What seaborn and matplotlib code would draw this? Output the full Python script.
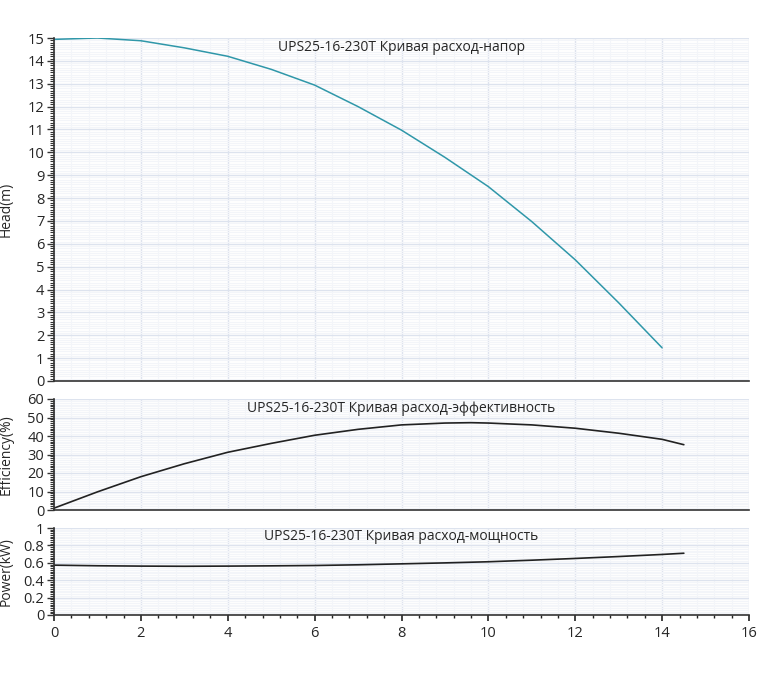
import numpy as np
import pandas as pd
import matplotlib
matplotlib.use("Agg")
import matplotlib.pyplot as plt
import seaborn as sns
from matplotlib.ticker import MultipleLocator, AutoMinorLocator, FuncFormatter

# === Data ===
flow_head = [0, 1, 2, 3, 4, 5, 6, 7, 8, 9, 10, 11, 12, 13, 14]
head = [14.94, 15.0, 14.88, 14.57, 14.2, 13.63, 12.94, 12.0, 10.97, 9.78, 8.5, 6.97, 5.3, 3.42, 1.45]

flow_eff = [0, 1, 2, 3, 4, 5, 6, 7, 8, 9, 9.6, 10, 11, 12, 13, 14, 14.5]
efficiency = [1, 9.8, 18, 25, 31.2, 36, 40.4, 43.6, 46, 47, 47.2, 47, 46, 44.2, 41.5, 38.2, 35.3]

flow_pow = [0, 1, 2, 3, 4, 5, 6, 7, 8, 9, 10, 11, 12, 13, 14, 14.5]
power = [0.573, 0.566, 0.562, 0.560, 0.562, 0.565, 0.569, 0.577, 0.588, 0.599,
         0.612, 0.63, 0.65, 0.672, 0.696, 0.71]

titles = ["UPS25-16-230T Кривая расход-напор",
          "UPS25-16-230T Кривая расход-эффективность",
          "UPS25-16-230T Кривая расход-мощность"]
ylabels = ["Head(m)", "Efficiency(%)", "Power(kW)"]

sns.set_style("white", {"xtick.bottom": True, "ytick.left": True})
plt.rcParams['font.family'] = ['Open Sans', 'DejaVu Sans']

fig = plt.figure(figsize=(7.69, 6.80), dpi=100)
left, width = 54 / 769, 695 / 769
ax_h = fig.add_axes([left, 299 / 680, width, 343 / 680])
ax_e = fig.add_axes([left, 170 / 680, width, 111 / 680])
ax_p = fig.add_axes([left, 65 / 680, width, 87 / 680])

df_h = pd.DataFrame({"Q": flow_head, "H": head})
df_e = pd.DataFrame({"Q": flow_eff, "E": efficiency})
df_p = pd.DataFrame({"Q": flow_pow, "P": power})

sns.lineplot(data=df_h, x="Q", y="H", ax=ax_h, color="#2f97a9", lw=1.1)
sns.lineplot(data=df_e, x="Q", y="E", ax=ax_e, color="#222222", lw=1.2)
sns.lineplot(data=df_p, x="Q", y="P", ax=ax_p, color="#222222", lw=1.2)

fmt = FuncFormatter(lambda v, p: "%g" % round(v, 2))
limits = [(0, 15, 1), (0, 60, 10), (0, 1, 0.2)]
title_y = [0.995, 0.985, 0.985]
for ax, (lo, hi, step), title, lab, ty in zip([ax_h, ax_e, ax_p], limits, titles, ylabels, title_y):
    ax.set_xlim(0, 16)
    ax.set_ylim(lo, hi)
    ax.xaxis.set_major_locator(MultipleLocator(2))
    ax.xaxis.set_minor_locator(AutoMinorLocator(5))
    ax.yaxis.set_major_locator(MultipleLocator(step))
    ax.yaxis.set_minor_locator(AutoMinorLocator(10))
    ax.yaxis.set_major_formatter(fmt)
    ax.grid(which="major", color="#dde3ee", lw=1.0)
    ax.grid(which="minor", color="#f3f5f9", lw=0.8)
    ax.set_axisbelow(True)
    for s in ["top", "right"]:
        ax.spines[s].set_visible(False)
    for s in ["left", "bottom"]:
        ax.spines[s].set_color("#333333")
        ax.spines[s].set_linewidth(1.2)
    ax.tick_params(axis="y", which="major", direction="out", length=5, width=1,
                   labelsize=10.5, pad=2, color="#333333", left=True)
    ax.tick_params(axis="y", which="minor", direction="out", length=3, width=0.8,
                   color="#333333", left=True)
    ax.set_xlabel("")
    ax.set_ylabel(lab, fontsize=10)
    ax.yaxis.set_label_coords(-0.058, 0.5)
    ax.text(0.5, ty, title, transform=ax.transAxes, ha="center", va="top", fontsize=10)

for ax in [ax_h, ax_e]:
    ax.tick_params(axis="x", which="both", bottom=False, labelbottom=False)

# x ticks of the bottom panel drawn as short lines under the axis
ax_p.tick_params(axis="x", which="major", length=0, labelsize=10.5, pad=8)
ax_p.tick_params(axis="x", which="minor", length=0)
xt = ax_p.get_xaxis_transform()
ax_p.vlines(ax_p.xaxis.get_majorticklocs(), -0.065, 0, transform=xt,
            color="#222222", lw=1.2, clip_on=False)
ax_p.vlines(ax_p.xaxis.get_minorticklocs(), -0.04, 0, transform=xt,
            color="#222222", lw=1.0, clip_on=False)

fig.savefig("out.png", dpi=100)
